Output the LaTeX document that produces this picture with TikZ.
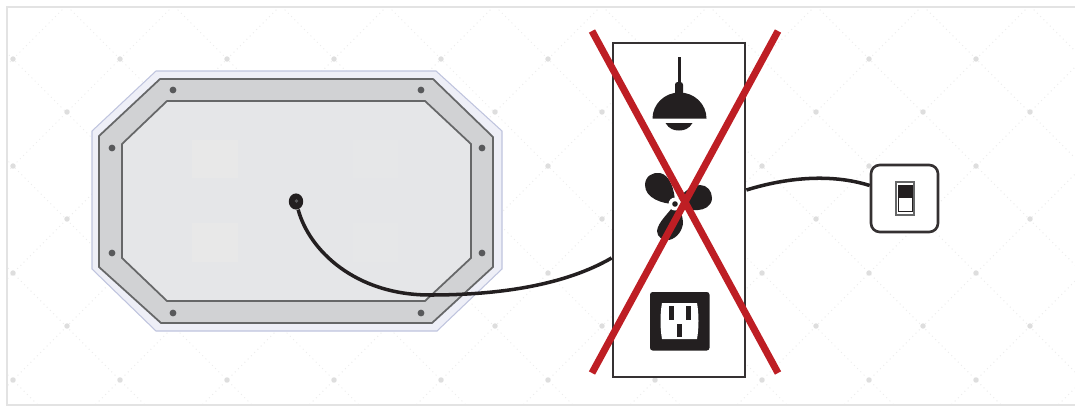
\documentclass[tikz,border=0pt]{standalone}
\usepackage{xcolor}
\usetikzlibrary{positioning,calc,shapes.geometric}
\definecolor{mrframe}{HTML}{E3E3E3}
\definecolor{mrdot}{HTML}{DEDEDE}
\definecolor{mrhalo}{HTML}{EEEFF7}
\definecolor{mrhaloline}{HTML}{BFC4DE}
\definecolor{mrring}{HTML}{D1D2D4}
\definecolor{mrglass}{HTML}{E5E6E8}
\definecolor{mrpatch}{HTML}{E8E8E8}
\definecolor{mrline}{HTML}{666768}
\definecolor{mrscrew}{HTML}{58595B}
\definecolor{mrink}{HTML}{231F20}
\definecolor{mrred}{HTML}{BE1E24}

\begin{document}
\begin{tikzpicture}[
  x=0.02cm,y=-0.02cm,
  lattice/.style={mrdot!55,line width=0.6pt,dotted},
  latticedot/.style={circle,fill=mrdot,inner sep=0pt,minimum size=3.1pt},
  screw/.style={circle,fill=mrscrew,inner sep=0pt,minimum size=3.9pt},
  patch/.style={fill=mrpatch},
  wire/.style={mrink,line width=2pt},
  panelbox/.style={draw=mrink!92,fill=white,line width=1.6pt,minimum width=2.64cm,minimum height=6.68cm,inner sep=0pt},
  switchbox/.style={draw=mrink!92,fill=white,line width=1.5pt,rounded corners=5pt,minimum width=1.34cm,minimum height=1.34cm,inner sep=0pt},
  plugnode/.style={ellipse,fill=mrink,inner sep=0pt,minimum width=8.2pt,minimum height=9.2pt},
  cross/.style={mrred,line width=4pt}]
\useasboundingbox (0,0) rectangle (1075,406);

% ---- wall: dotted lattice and frame ----
\begin{scope}
  \clip (7,7) rectangle (1075,405);
  \foreach \n in {-1,...,13} {
    \draw[lattice] ({72+107*\n},0) -- ({72+107*\n-406},406);
  }
  \foreach \n in {-4,...,10} {
    \draw[lattice] ({-46+107*\n},0) -- ({-46+107*\n+406},406);
  }
  \foreach \k in {0,...,9} {
    \foreach \m in {0,...,3} {
      \node[latticedot] at ({13+107*\k},{59+107*\m}) {};
    }
    \foreach \m in {0,...,2} {
      \node[latticedot] at ({67+107*\k},{112+107*\m}) {};
    }
  }
\end{scope}
\draw[mrframe,line width=1.2pt] (1076,7) -- (7,7) -- (7,405) -- (1076,405);

% ---- mirror ----
\fill[mrhalo,draw=mrhaloline,line width=0.6pt] (156,71) -- (436,71) -- (502,131) -- (502,269)
  -- (437,331) -- (156,331) -- (92,269) -- (92,131) -- cycle;
\fill[mrring,draw=mrline,line width=1pt] (160,79) -- (433,79) -- (493,137) -- (493,267)
  -- (432,323) -- (161,323) -- (99,267) -- (99,136) -- cycle;
\fill[mrglass,draw=mrline,line width=1pt] (167,101) -- (425,101) -- (471,144) -- (471,258)
  -- (425,301) -- (167,301) -- (122,258) -- (122,144) -- cycle;
\fill[patch] (192,140) rectangle (238,178);
\fill[patch,opacity=.5] (353,140) rectangle (398,178);
\fill[patch] (192,223) rectangle (238,262);
\fill[patch,opacity=.5] (353,223) rectangle (398,262);
\foreach \sx/\sy in {173/90,421/90,112/148,482/148,112/253,482/253,173/313,421/313} {
  \node[screw] at (\sx,\sy) {};
}

% ---- panel, switch and plug ----
\node[panelbox] (panel) at (679,210) {};
\node[switchbox] (switch) at (904.5,198.5) {};
\node[plugnode] (plug) at (296,201.5) {};
\fill[mrscrew] (296.5,201) circle (1.8);

\draw[wire] (plug) .. controls (309,250) and (355,295) .. (430,295)
  .. controls (500,295) and (565,285) .. ([yshift=-0.96cm]panel.west);
\draw[wire] ([yshift=0.4cm]panel.east) .. controls (785,178) and (830,173) .. ([yshift=0.26cm]switch.west);

% ---- lamp ----
\draw[mrink,line width=1.7pt] (679,57) -- (679,90);
\fill[mrink,rounded corners=1.5pt] (675,96) -- (675,82) -- (683,82) -- (683,96) -- cycle;
\fill[mrink] (652.5,118.5) arc[start angle=180,end angle=0,x radius=27,y radius=-26] -- cycle;
\fill[mrink] (665.5,123) .. controls (669,129) and (674,130.5) .. (679,130.5)
  .. controls (684,130.5) and (689,129) .. (692.5,123) -- cycle;

% ---- fan ----
\fill[mrink] (675,204) .. controls (662,204) and (645,198) .. (645,185)
  .. controls (645,176) and (653,172) .. (660,173) .. controls (670,175) and (675,190) .. (675,204) -- cycle;
\fill[mrink] (675,204) .. controls (680,196) and (688,186) .. (700,185)
  .. controls (707,185) and (712,191) .. (712,198) .. controls (712,206) and (704,210) .. (698,210)
  .. controls (690,211) and (682,208) .. (675,204) -- cycle;
\fill[mrink] (675,204) .. controls (668,214) and (658,222) .. (657,231)
  .. controls (657,237) and (663,241) .. (669,240) .. controls (678,238) and (683,229) .. (683,222)
  .. controls (683,215) and (679,209) .. (675,204) -- cycle;
\fill[white] (675,204) circle (6.5);
\fill[mrink] (675,204) circle (2.8);

% ---- outlet ----
\fill[mrink,rounded corners=1.5pt] (650,292) rectangle (709.5,350.5);
\fill[white] (662,303) -- (697,303) .. controls (699,314) and (699,328) .. (697,339)
  -- (662,339) .. controls (660,328) and (660,314) .. (662,303) -- cycle;
\fill[mrink] (668.5,306) rectangle (673.5,320);
\fill[mrink] (685.5,306) rectangle (690.5,320);
\fill[mrink] (677,324) rectangle (682,337);

% ---- rocker in the switch ----
\draw[mrline,fill=white,line width=0.8pt] (896,182) rectangle (914,215);
\draw[mrink,line width=0.4pt] (898,185) rectangle (912,211);
\fill[mrink] (898,185) rectangle (912,198);

% ---- crossed out ----
\draw[cross] (592,31) -- (778,373);
\draw[cross] (778,31) -- (592,373);
\end{tikzpicture}
\end{document}
